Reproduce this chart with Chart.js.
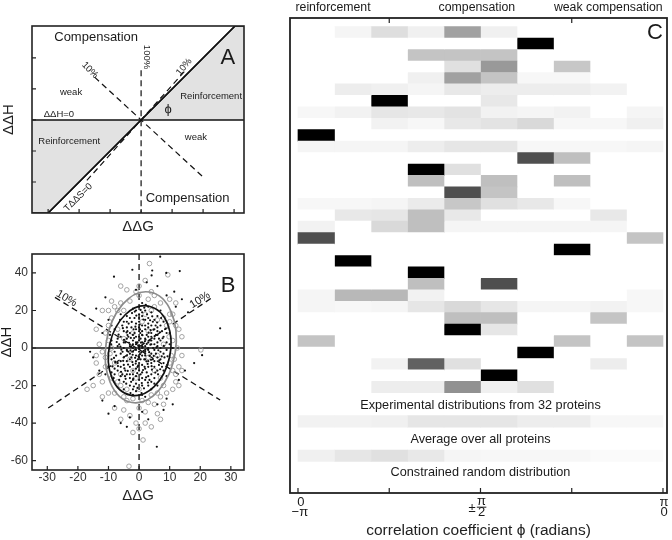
<!DOCTYPE html>
<html>
<head>
<meta charset="utf-8">
<script src="https://cdn.jsdelivr.net/npm/chart.js@4.4.0/dist/chart.umd.min.js"></script>
<style>
body { margin: 0; background: #fff; }
#wrap { position: relative; width: 672px; height: 540px; overflow: hidden; }
canvas { position: absolute; }
</style>
</head>
<body>
<div id="wrap">
  <canvas id="panelA" width="280" height="240" style="left:0;top:0"></canvas>
  <canvas id="panelB" width="280" height="300" style="left:0;top:240px"></canvas>
  <canvas id="panelC" width="392" height="540" style="left:280px;top:0"></canvas>
</div>
<script>
// ---- panel A: schematic (tick units) ----
var aDiagonal = [[-3, -3], [3.03, 3.03]];
var aZeroLine = [[-3.52, 0], [3.32, 0]];
var aVertDash = [[0, 1.6], [0, -3]];
var aAntiDash = [[-1.5, 1.38], [2.0, -1.84]];
var aNearDash = [[-1.75, -1.95], [1.45, 1.62]];
var aUpperFill = [[0, 0], [3.03, 3.03], [3.32, 3.03]];
var aLowerFill = [[-3.52, -3], [-3, -3], [0, 0]];
var aXTicks = [-3, -2, -1, 0, 1, 2, 3];
var aYTicks = [-2, -1, 0, 1, 2];

// ---- panel B: ddG / ddH scatter ----
var bDots = [
  [6.9, 48.7], [-2.2, 41.7], [-8.2, 38], [13.3, 41], [8.9, 40], [4.3, 41.3], [4.1, 38.7], [2.5, 35], [6, 33], [-1, 31],
  [11.5, 30], [9, 28], [-11, 27], [14, 26], [-14, 21], [12, 22], [16, 19], [26.5, 10.5], [20.6, -3.8], [18, -8],
  [15, -12], [13, -17], [-15, -5], [-13, -12], [-16, -2], [-12, 8], [-10, 15], [5.8, -52.6], [-4, -42], [-6, -40],
  [-3, -37], [3, -38], [8, -33], [11, -30], [-10, -35], [-12, -28], [-8, -31], [1, -34], [6, -30], [9, -27],
  [-1, 2], [0.5, 5], [2, -3], [-3, -6], [4, 8], [1, 12], [-2, -12], [3, -15], [-5, 3], [6, 1],
  [-7, -8], [5, -10], [0, 18], [2, 20], [-4, 14], [7, 12], [-6, -15], [1, -20], [-2, -22], [4, -18],
  [8, 6], [-8, -2], [3, 3], [-1, -4], [0, -8], [2, 10], [-3, 8], [5, 15], [6, -5], [-5, -18],
  [1, 0], [-2, 4], [3, -7], [4, 2], [-4, -1], [0, 14], [-1, -15], [2, -11], [7, -2], [-6, 6],
  [1, 7], [-3, -10], [5, 5], [-1, 10], [0, -2], [3, 16], [-2, -17], [6, 9], [-7, 1], [2, -6],
  [9, 3], [-9, -6], [4, -3], [-4, 11], [1, -13], [3, 22], [-3, -20], [8, -8], [-8, 10], [0, 4],
  [2, 1], [-1, -1], [1, -4], [-2, 0], [3, 6], [4, 12], [-5, -5], [6, -12], [-6, -10], [2, 15],
  [0, 9], [-2, 7], [5, -1], [-3, 2], [1, -9], [7, 4], [-4, -14], [3, -20], [8, 14], [-7, -12],
  [0, -17], [1, 24], [-1, 20], [4, -14], [-5, 9], [6, 17], [2, -1], [-1, -7], [0, 1], [3, 0],
  [-3, -3], [5, 10], [-6, -3], [4, -8], [1, 3], [-2, -9], [7, -6], [-8, -14], [9, -1], [-9, 4],
  [2, 5], [0, -12], [-1, 13], [3, -10], [6, 3], [-4, 5], [5, -16], [-5, -22], [8, -12], [10, 8],
  [-10, -10], [1, -25], [0, 22], [2, -17], [-3, 16], [4, 19], [-2, -25], [6, -20], [-6, 18], [7, 20],
  [9, -15], [-9, 12], [11, 0], [-11, -14], [1, 17], [-1, -19], [3, 11], [-3, -14], [5, 2], [-5, 0],
  [4, 6], [-4, -7], [0, 6], [0, -5], [2, -2], [-2, 2], [1, 9], [-1, -11], [-0.5, 3], [1.5, -1.5],
  [-2.5, -5], [2.5, 7], [0, 11], [-1.5, 16], [3.5, -4], [-3.5, 6], [4.5, -6], [-4.5, -12], [5.5, 7], [-5.5, 12],
  [6.5, -9], [-6.5, 2], [7.5, 9], [-7.5, -4], [0.5, -14], [1, 19], [-1, -23], [2, -26], [-2, 21], [3, 13],
  [-3, -16], [4, -22], [-4, 17], [5, -19], [-5, -9], [6, 11], [-6, -7], [7, 0], [-7, 5], [8, -3],
  [-8, -11], [9, 8], [-9, -13], [0.5, -6], [1.5, 2.5], [-0.5, -10], [2.5, -13], [-1.5, 8], [3.5, 4], [-2.5, 11],
  [4.5, 14], [-3.5, -2], [5.5, -3], [-4.5, 3], [6.5, 5], [-5.5, -14], [7.5, -10], [-6.5, -17], [1, -16], [0, 16],
  [2, 12], [-1, 6], [3, -1], [-2, -14], [4, 4], [-3, 1], [5, -7], [-4, -4], [6, 7], [-5, 14],
  [1.2, 0.5], [-0.8, 2.2], [0.3, -3.3], [2.8, -8.5], [-2.2, -7.5], [3.8, 9.5], [-3.8, 9], [4.2, -11.5], [-4.2, -19], [1.7, 21.5],
  [-1.7, -20.5], [0.8, -24], [2.2, 23], [-2.8, -24], [6.2, -14], [-6.2, 15], [7.2, 16], [8.3, -5], [-8.3, -16], [9.2, -9],
  [10, 2], [-9.5, 7], [0, 0], [1, 1], [-1, 3], [2, -4], [-2, -2], [0.4, 8], [-0.4, -6], [1.8, -10],
  [-1.8, 10], [2.6, 18], [-2.6, -18], [3.4, -17], [-3.4, 13], [4.6, 0], [-4.6, -15], [5.4, 12], [-5.4, -2],
  [-0.3, 1.2], [0.7, -2.4], [1.9, 3.6], [-1.3, -5.2], [2.4, -7.1], [-2.7, 5.4], [3.1, 8.2], [-3.6, -8.8], [0.2, 12.5], [-0.6, -13.4],
  [1.4, 15.2], [-1.9, -16.3], [2.9, -18.4], [-2.3, 18.6], [3.7, 1.8], [-3.9, -1.6], [4.8, -4.2], [-4.9, 4.4], [5.1, 6.3], [-5.2, -6.8],
  [6.3, -1.2], [-6.1, 0.8], [6.8, 8.4], [-6.9, -9.6], [7.4, -4.5], [-7.3, 3.2], [8.1, 1.1], [-8.2, -5.3], [0.9, -18.7], [-0.9, 17.3],
  [1.6, -21.5], [-1.4, 19.4], [2.1, 4.4], [-2.1, -3.6], [3.3, -2.2], [-3.3, 2.8], [4.1, -9.7], [-4.1, 8.3], [5.3, -13.1], [-5.3, 10.6],
  [0.1, -0.7], [0.6, 2.9], [-0.2, -4.5], [1.1, 6.8], [-1.1, -8.3], [2.3, -15.6], [-2.4, 13.9], [3.6, 14.8], [-3.7, -12.2], [4.3, 16.9],
  [-4.4, -16.4], [5.7, 0.3], [-5.8, -0.9], [6.6, -6.6], [-6.7, 7.1], [7.7, 5.2], [-7.8, -7.4], [0.5, 20.3], [-0.5, -21.2], [1.3, -11.7],
  [-1.2, 11.4], [2.7, -0.4], [-2.6, 0.6], [3.9, -6.3], [-3.8, 6.9], [4.7, 9.8], [-4.8, -10.9], [5.9, 13.6], [-5.9, -12.7], [6.9, -11.3],
  [8.6, 10.2], [-8.7, -9.8], [9.3, -4.4], [-9.1, 1.9], [0.3, 9.9], [-0.3, -9.4], [1.7, -6.1], [-1.6, 5.3], [2.5, 2.2], [-2.8, -1.3]
];
var bCircles = [
  [3.4, 45], [9.4, 39], [-6, 33], [2, 36], [5, 28], [-9, 25], [12, 24], [-12, 20], [10, 18], [13, 10],
  [-13, 2], [-14, -8], [14, -4], [12, -14], [-12, -18], [-10, -24], [-15, -20], [-17, -22], [20.2, -1], [1.3, -49],
  [-3.3, -63], [-2, -45], [-6, -38], [4, -42], [-8, -32], [6, -35], [0, -32], [9, -24], [-4, -28], [3, -29],
  [11, -22], [-11, -5], [11, 4], [-10, 12], [-7, 20], [7, 24], [0, 28], [-3, 25], [4, 30], [13, -10],
  [-13, -14], [8, -30], [-5, -33], [2, -40], [12, -18], [6, 15], [-6, -20], [3, -5], [-2, 8], [5, -12],
  [-5, 5], [8, 2], [-8, -8], [1, 14], [-1, -16], [10, -8], [-9, 16], [4, 20], [-4, -22], [7, -16],
  [-7, 10], [2, 18], [-2, -12], [6, -4], [-6, -14], [9, 12], [-9, 0], [0, -22], [3, 9], [-3, -6],
  [11, -12], [-11, 8], [5, 22], [-5, -26], [12, 12], [-14, -4], [14, 6], [1, -28], [-1, 30], [8, -20],
  [-8, 22], [10, 26], [-12, -26], [13, -20], [-3, -36], [7, -38], [-1, -40], [0, -43],
  [9.8, 6], [10.5, -4], [-9.5, -3], [-10, 4], [8, 16], [-7, -18], [6, -24], [-5, 20], [11.5, -6], [-11, -10],
  [3, 26], [-2, -27], [10, 14], [-9, -16], [12.5, 0], [-12, -2], [7, -26], [-6, 24], [0, 33], [2, -34],
  [4, -25], [-8, -24], [11, 18], [-10, 20], [14, -12], [-14, 10], [5, -30], [-4, 31]
];
var bZeroV = [[0, 50.1], [0, -65]];
var bZeroH = [[-35, 0], [34.3, 0]];
var bDashUp = [[-29.7, -32], [24, 27]];
var bDashDown = [[-27.5, 27], [26.5, -27.7]];
// ellipses: centre x, centre y, semi-axis x, semi-axis y, tilt (deg)
var bEllipseGray = [0.55, 0.4, 11.4, 29.8, 9];
var bEllipseBlack = [0.2, -1.4, 10, 24.2, 12];
var bXTicks = [-30, -20, -10, 0, 10, 20, 30];
var bYTicks = [-60, -40, -20, 0, 20, 40];

// ---- panel C: phi distributions, darkness 0 (white) .. 1 (black), 10 bins ----
var cBins = [0, 1, 2, 3, 4, 5, 6, 7, 8, 9];
var cProteins = [
  [0, .04, .13, .06, .37, .06, 0, 0, 0, 0],
  [0, 0, 0, 0, 0, 0, 1, 0, 0, 0],
  [0, 0, 0, .23, .23, .23, 0, 0, 0, 0],
  [0, 0, 0, 0, .12, .4, 0, .22, 0, 0],
  [0, 0, 0, .06, .37, .23, .03, .03, 0, 0],
  [0, .07, .06, .04, .09, .07, .07, .07, .05, 0],
  [0, 0, 1, 0, 0, .09, 0, 0, 0, 0],
  [.03, .05, .1, .09, .11, .05, .04, .05, 0, .04],
  [0, 0, .05, .03, .09, .11, .15, .03, .03, .06],
  [1, 0, 0, 0, 0, 0, 0, 0, 0, 0],
  [.04, .04, .04, .07, .1, .1, .03, .03, .03, .04],
  [0, 0, 0, 0, 0, 0, .69, .25, 0, 0],
  [0, 0, 0, 1, .12, 0, 0, 0, 0, 0],
  [0, 0, 0, .25, 0, .25, 0, .25, 0, 0],
  [0, 0, 0, 0, .69, .23, 0, 0, 0, 0],
  [.03, .03, .04, .08, .22, .12, .09, .03, 0, 0],
  [0, .09, .1, .25, .09, 0, 0, 0, .09, 0],
  [.05, 0, .15, .25, .04, .04, .04, .04, .04, 0],
  [.69, 0, 0, 0, 0, 0, 0, 0, 0, .23],
  [0, 0, 0, 0, 0, 0, 0, 1, 0, 0],
  [0, 1, 0, 0, 0, 0, 0, 0, 0, 0],
  [0, 0, 0, 1, 0, 0, 0, 0, 0, 0],
  [0, 0, 0, .25, 0, .69, 0, 0, 0, 0],
  [.04, .28, .28, .05, 0, 0, 0, 0, 0, .03],
  [.04, .03, .04, .1, .15, .1, .04, .04, .05, .03],
  [0, 0, 0, 0, .25, .25, 0, 0, .23, 0],
  [0, 0, 0, 0, 1, .1, 0, 0, 0, 0],
  [.23, 0, 0, 0, 0, 0, 0, .23, 0, .23],
  [0, 0, 0, 0, 0, 0, 1, 0, 0, 0],
  [0, 0, .05, .62, .12, 0, 0, 0, .07, 0],
  [0, 0, 0, 0, 0, 1, 0, 0, 0, 0],
  [0, 0, .07, .07, .43, .06, .12, 0, 0, 0]
];
var cAverage = [.05, .05, .06, .1, .1, .1, .07, .07, .03, .03];
var cRandom = [.06, .1, .12, .09, .04, .03, .03, .03, .02, .02];
var cTickValues = [0, 2.5, 5, 7.5, 10];
var cTopTickValues = [2.5, 7.5];

Chart.defaults.font.family = '"Liberation Sans", Arial, Helvetica, sans-serif';
Chart.defaults.color = '#222';

function pts(list) {
    return list.map(function (p) { return { x: p[0], y: p[1] }; });
}

function fixedTicks(values) {
    return function (scale) {
        scale.ticks = values.map(function (v) { return { value: v }; });
    };
}

function drawTexts(chart, list) {
    var ctx = chart.ctx, xs = chart.scales.x, ys = chart.scales.y;
    list.forEach(function (t) {
        ctx.save();
        ctx.translate(xs.getPixelForValue(t.x), ys.getPixelForValue(t.y));
        if (t.rot) ctx.rotate(t.rot * Math.PI / 180);
        ctx.font = (t.size || 12) + 'px "Liberation Sans", Arial, sans-serif';
        ctx.fillStyle = '#1a1a1a';
        ctx.textAlign = 'center';
        ctx.textBaseline = 'middle';
        ctx.fillText(t.text, 0, 0);
        ctx.restore();
    });
}

function drawFrame(chart, width, len, topTicks) {
    var ctx = chart.ctx, a = chart.chartArea, xs = chart.scales.x, ys = chart.scales.y;
    ctx.save();
    ctx.strokeStyle = '#222';
    ctx.lineWidth = width;
    ctx.strokeRect(a.left, a.top, a.right - a.left, a.bottom - a.top);
    ctx.lineWidth = 1.2;
    ctx.beginPath();
    xs.ticks.forEach(function (t) {
        var px = xs.getPixelForValue(t.value);
        ctx.moveTo(px, a.bottom);
        ctx.lineTo(px, a.bottom - len);
    });
    (topTicks || []).forEach(function (v) {
        var px = xs.getPixelForValue(v);
        ctx.moveTo(px, a.top);
        ctx.lineTo(px, a.top + len);
    });
    if (ys.options.display) {
        ys.ticks.forEach(function (t) {
            var py = ys.getPixelForValue(t.value);
            ctx.moveTo(a.left, py);
            ctx.lineTo(a.left + len, py);
        });
    }
    ctx.stroke();
    ctx.restore();
}

function lineSet(list, dashed, width, color) {
    return {
        data: pts(list), showLine: true, pointRadius: 0, borderColor: color || '#111',
        borderWidth: width || 1.4, borderDash: dashed ? [6, 4] : [], fill: false, tension: 0
    };
}

// ================= panel A =================
var aNotes = [
    { text: 'Compensation', x: -1.45, y: 2.65, size: 13 },
    { text: 'Compensation', x: 1.5, y: -2.52, size: 13 },
    { text: 'weak', x: -2.26, y: 0.9, size: 9.5 },
    { text: 'weak', x: 1.77, y: -0.55, size: 9.5 },
    { text: 'Reinforcement', x: 2.26, y: 0.77, size: 9.5 },
    { text: 'Reinforcement', x: -2.32, y: -0.7, size: 9.5 },
    { text: 'ΔΔH=0', x: -2.65, y: 0.19, size: 9.5 },
    { text: 'ϕ', x: 0.87, y: 0.35, size: 13 },
    { text: 'A', x: 2.8, y: 2.0, size: 22 },
    { text: '100%', x: 0.19, y: 2.03, size: 9.5, rot: 90 },
    { text: '10%', x: -1.65, y: 1.61, size: 9.5, rot: 45 },
    { text: '10%', x: 1.39, y: 1.71, size: 9.5, rot: -50 },
    { text: 'TΔΔS=0', x: -2.03, y: -2.5, size: 9.5, rot: -45 }
];

var upperFillSet = lineSet(aUpperFill, false, 0);
upperFillSet.fill = 'origin';
upperFillSet.backgroundColor = '#e2e2e2';
var lowerFillSet = lineSet(aLowerFill, false, 0);
lowerFillSet.fill = 'origin';
lowerFillSet.backgroundColor = '#e2e2e2';

new Chart(document.getElementById('panelA'), {
    type: 'line',
    data: {
        datasets: [
            lineSet(aDiagonal, false, 1.6),
            lineSet(aZeroLine, false, 1.6),
            lineSet(aVertDash, true, 1.2),
            lineSet(aAntiDash, true, 1.2),
            lineSet(aNearDash, true, 1.2),
            upperFillSet,
            lowerFillSet
        ]
    },
    options: {
        responsive: false, animation: false, devicePixelRatio: 1, events: [],
        layout: { padding: { top: 26, right: 36, left: 0, bottom: 0 } },
        plugins: { legend: { display: false }, tooltip: { enabled: false } },
        scales: {
            x: {
                type: 'linear', min: -3.52, max: 3.32,
                ticks: { display: false },
                grid: { display: false, drawTicks: false }, border: { display: false },
                title: { display: true, text: 'ΔΔG', font: { size: 15 }, padding: { top: 0, bottom: 4 } },
                afterBuildTicks: fixedTicks(aXTicks),
                afterFit: function (s) { s.height = 27; }
            },
            y: {
                type: 'linear', min: -3, max: 3.03,
                ticks: { display: false },
                grid: { display: false, drawTicks: false }, border: { display: false },
                title: { display: true, text: 'ΔΔH', font: { size: 15 }, padding: { top: 0, bottom: 0 } },
                afterBuildTicks: fixedTicks(aYTicks),
                afterFit: function (s) { s.width = 32; }
            }
        }
    },
    plugins: [{
        id: 'panelAExtras',
        afterDraw: function (chart) {
            drawFrame(chart, 1.6, 4);
            drawTexts(chart, aNotes);
        }
    }]
});

// ================= panel B =================
var bNotes = [
    { text: 'B', x: 29.1, y: 33, size: 22 },
    { text: '10%', x: -23.7, y: 26.4, size: 11, rot: 30 },
    { text: '10%', x: 19.9, y: 25.6, size: 11, rot: -32 },
    { text: 'ΔΔH', x: -43.1, y: 3.2, size: 15, rot: -90 }
];

new Chart(document.getElementById('panelB'), {
    type: 'scatter',
    data: {
        datasets: [
            { data: pts(bDots), pointRadius: 1.1, pointBorderWidth: 0, pointBackgroundColor: '#111' },
            { data: pts(bCircles), pointRadius: 2.3, pointBorderWidth: 0.9, pointBorderColor: '#9a9a9a', pointBackgroundColor: 'rgba(0,0,0,0)' },
            lineSet(bZeroV, true, 1.3),
            lineSet(bZeroH, false, 1.5),
            lineSet(bDashUp, true, 1.3),
            lineSet(bDashDown, true, 1.3)
        ]
    },
    options: {
        responsive: false, animation: false, devicePixelRatio: 1, events: [],
        layout: { padding: { top: 14, right: 36, left: 0, bottom: 0 } },
        plugins: { legend: { display: false }, tooltip: { enabled: false } },
        scales: {
            x: {
                type: 'linear', min: -35, max: 34.3,
                ticks: { font: { size: 12 }, color: '#333', padding: 0, maxRotation: 0, autoSkip: false },
                grid: { display: false, drawTicks: false }, border: { display: false },
                title: { display: true, text: 'ΔΔG', font: { size: 15 }, padding: { top: 0, bottom: 35 } },
                afterBuildTicks: fixedTicks(bXTicks),
                afterFit: function (s) { s.height = 70; }
            },
            y: {
                type: 'linear', min: -65, max: 50.1,
                ticks: { font: { size: 12 }, color: '#333', padding: 4, autoSkip: false },
                grid: { display: false, drawTicks: false }, border: { display: false },
                afterBuildTicks: fixedTicks(bYTicks),
                afterFit: function (s) { s.width = 32; }
            }
        }
    },
    plugins: [{
        id: 'panelBExtras',
        afterDatasetsDraw: function (chart) {
            var ctx = chart.ctx, xs = chart.scales.x, ys = chart.scales.y;
            [[bEllipseGray, '#8c8c8c'], [bEllipseBlack, '#111']].forEach(function (item) {
                var e = item[0];
                var cx = xs.getPixelForValue(e[0]), cy = ys.getPixelForValue(e[1]);
                var rx = Math.abs(xs.getPixelForValue(e[0] + e[2]) - cx);
                var ry = Math.abs(ys.getPixelForValue(e[1] + e[3]) - cy);
                ctx.save();
                ctx.beginPath();
                ctx.ellipse(cx, cy, rx, ry, e[4] * Math.PI / 180, 0, 2 * Math.PI);
                ctx.strokeStyle = item[1];
                ctx.lineWidth = 1.7;
                ctx.stroke();
                ctx.restore();
            });
        },
        afterDraw: function (chart) {
            drawFrame(chart, 1.6, 4);
            drawTexts(chart, bNotes);
        }
    }]
});

// ================= panel C =================
var cAllRows = cProteins.concat([cAverage, cRandom]);
var cSlots = cProteins.map(function (r, i) { return i; }).concat([34, 37]);

function grayOf(d) {
    var v = Math.round(255 * (1 - d));
    return 'rgb(' + v + ',' + v + ',' + v + ')';
}

var cSets = cBins.map(function (j) {
    return {
        data: cAllRows.map(function (row, i) { return { x: [j, j + 1], y: cSlots[i] }; }),
        backgroundColor: cAllRows.map(function (row) { return grayOf(row[j]); }),
        borderWidth: 0, grouped: false, barPercentage: 1, categoryPercentage: 1
    };
});

var cNotes = [
    { text: 'reinforcement', x: 0.96, y: -2.2, size: 12.3 },
    { text: 'compensation', x: 4.9, y: -2.2, size: 12.3 },
    { text: 'weak compensation', x: 8.5, y: -2.2, size: 12.3 },
    { text: 'C', x: 9.78, y: 0.05, size: 22 },
    { text: 'Experimental distributions from 32 proteins', x: 5, y: 32.57, size: 12.7 },
    { text: 'Average over all proteins', x: 5, y: 35.54, size: 12.7 },
    { text: 'Constrained random distribution', x: 5, y: 38.5, size: 12.7 },
    { text: '0', x: 0.08, y: 41.05, size: 13 },
    { text: '−π', x: 0.05, y: 42.0, size: 13 },
    { text: '±', x: 4.77, y: 41.6, size: 13 },
    { text: 'π', x: 5.03, y: 41.0, size: 13 },
    { text: '2', x: 5.03, y: 42.0, size: 13 },
    { text: 'π', x: 10.03, y: 41.05, size: 13 },
    { text: '0', x: 10.03, y: 42.0, size: 13 }
];

new Chart(document.getElementById('panelC'), {
    type: 'bar',
    data: { datasets: cSets },
    options: {
        indexAxis: 'y',
        responsive: false, animation: false, devicePixelRatio: 1, events: [],
        layout: { padding: { top: 18, right: 5, left: 10, bottom: 0 } },
        plugins: { legend: { display: false }, tooltip: { enabled: false } },
        scales: {
            x: {
                type: 'linear', min: -0.219, max: 10.11, offset: false,
                ticks: { display: false },
                grid: { display: false, drawTicks: false }, border: { display: false },
                title: { display: true, text: 'correlation coefficient ϕ (radians)', font: { size: 15.5 }, padding: { top: 0, bottom: 0 } },
                afterBuildTicks: fixedTicks(cTickValues),
                afterFit: function (s) { s.height = 47; }
            },
            y: { type: 'linear', reverse: true, min: -1.26, max: 40.26, offset: false, display: false }
        }
    },
    plugins: [{
        id: 'panelCExtras',
        afterDraw: function (chart) {
            drawFrame(chart, 1.8, 5, cTopTickValues);
            drawTexts(chart, cNotes);
            // fraction bar of pi/2
            var ctx = chart.ctx, xs = chart.scales.x, ys = chart.scales.y;
            ctx.save();
            ctx.strokeStyle = '#1a1a1a';
            ctx.lineWidth = 1;
            ctx.beginPath();
            ctx.moveTo(xs.getPixelForValue(4.9), ys.getPixelForValue(41.5));
            ctx.lineTo(xs.getPixelForValue(5.16), ys.getPixelForValue(41.5));
            ctx.stroke();
            ctx.restore();
        }
    }]
});
</script>
</body>
</html>
